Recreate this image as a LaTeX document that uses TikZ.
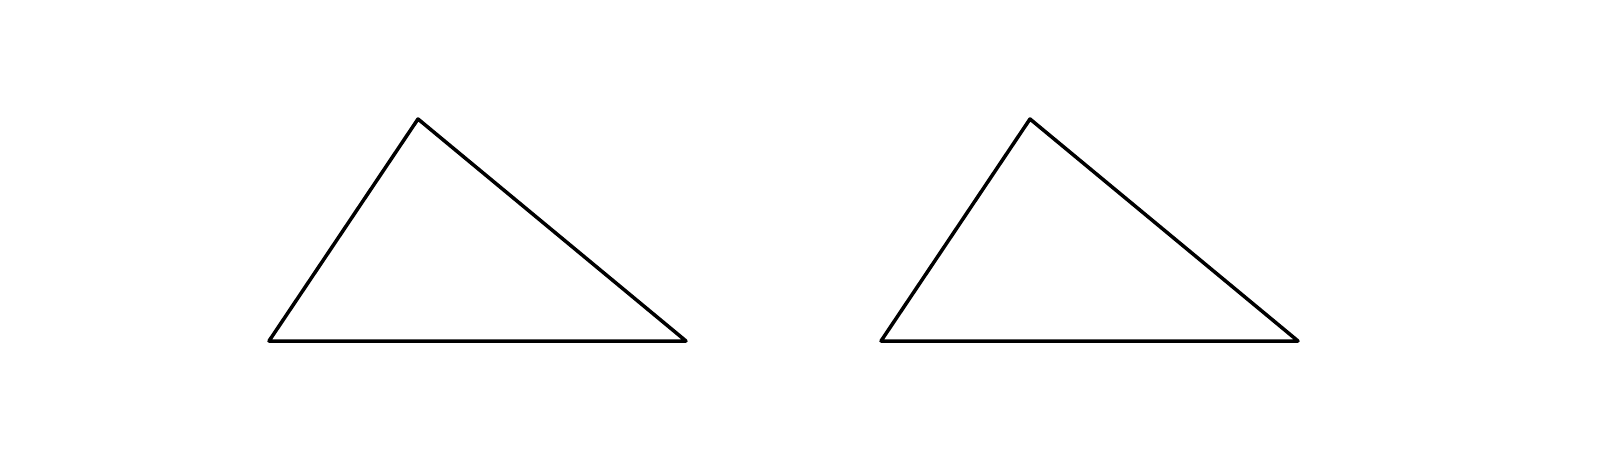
\documentclass[tikz,border=0pt]{standalone}
\begin{document}
\begin{tikzpicture}[x=0.01cm,y=-0.01cm,
  tri/.style={draw=black,line width=0.035cm,line join=round,line cap=round}]
\useasboundingbox (0,0) rectangle (1600,470);
\coordinate (a1) at (269,341);
\coordinate (b1) at (418,119);
\coordinate (c1) at (686,341);
\coordinate (a2) at (881,341);
\coordinate (b2) at (1030,119);
\coordinate (c2) at (1298,341);
\draw[tri] (a1) -- (b1) -- (c1) -- cycle;
\draw[tri] (a2) -- (b2) -- (c2) -- cycle;
\end{tikzpicture}
\end{document}
